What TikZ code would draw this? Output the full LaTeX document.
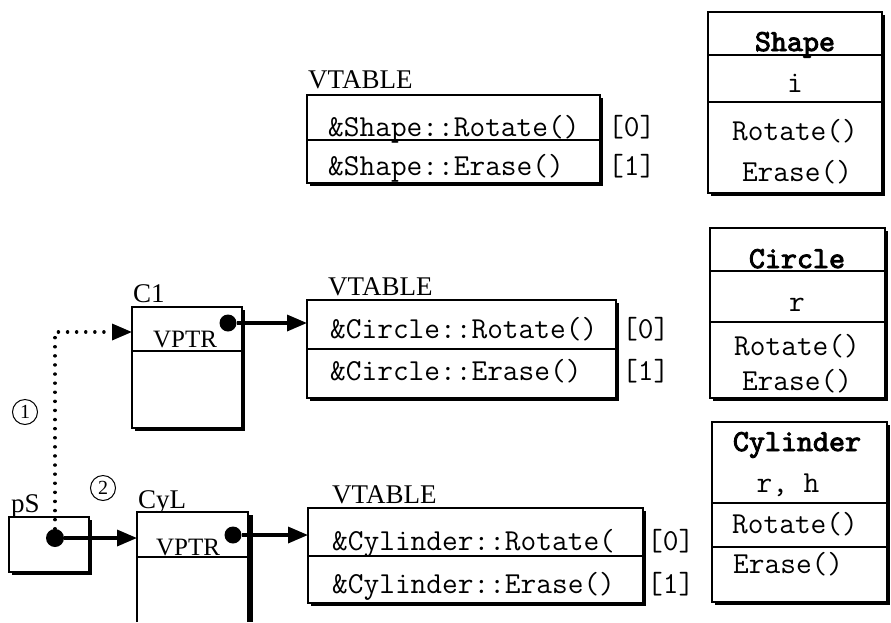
\documentclass[tikz,border=0pt]{standalone}
\usepackage{fontspec}
\setmainfont{Liberation Serif}
\newfontfamily\ttboldfake{lmmono10-regular.otf}[FakeBold=3]
\usetikzlibrary{arrows.meta,shadows}
\begin{document}
\begin{tikzpicture}[x=1pt,y=-1pt,
  frame/.style={draw, line width=1.6pt, fill=white, inner sep=0pt, outer sep=0pt,
    drop shadow={shadow xshift=3pt, shadow yshift=-3pt, opacity=1, fill=black}},
  div/.style={line width=1.4pt},
  mono/.style={inner sep=0pt, font=\fontsize{30.5}{32}\selectfont\ttfamily},
  monob/.style={inner sep=0pt, font=\fontsize{30.5}{32}\selectfont\ttboldfake},
  serif/.style={inner sep=0pt, font=\fontsize{27}{29}\selectfont},
  vptr/.style={inner sep=0pt, font=\fontsize{25}{27}\selectfont},
  ptr/.style={line width=3.4pt, -{Triangle[length=20pt, width=16pt]}},
  dotptr/.style={line width=3.4pt, dash pattern=on 0.1pt off 9pt, line cap=round,
    -{Triangle[length=20pt, width=16pt]}},
  blob/.style={circle, fill=black, inner sep=0pt, minimum size=17pt},
  num/.style={circle, draw, line width=1pt, inner sep=0pt, minimum size=25pt,
    font=\fontsize{20}{22}\selectfont}
]
\useasboundingbox (0,0) rectangle (891,622);

% ---------- Shape vtable ----------
\node[serif, anchor=base west] (lvS) at (308,88) {VTABLE};
\node[frame, minimum width=293pt, minimum height=88pt] (vtS) at (453.5,139) {};
\draw[div] (vtS.west |- 0,140) -- (vtS.east |- 0,140);
\node[mono, anchor=base west] (vtS0) at (328,136) {\&Shape::Rotate()};
\node[mono, anchor=base west] (vtS1) at (328,175) {\&Shape::Erase()};
\node[mono, anchor=base west] (iS0) at (608,136) {[0]};
\node[mono, anchor=base west] (iS1) at (608,175) {[1]};

% ---------- Circle vtable ----------
\node[serif, anchor=base west] (lvC) at (328,295) {VTABLE};
\node[frame, minimum width=309pt, minimum height=98pt] (vtC) at (461.5,349) {};
\draw[div] (vtC.west |- 0,349) -- (vtC.east |- 0,349);
\node[mono, anchor=base west] (vtC0) at (330,338) {\&Circle::Rotate()};
\node[mono, anchor=base west] (vtC1) at (330,380) {\&Circle::Erase()};
\node[mono, anchor=base west] (iC0) at (622,338) {[0]};
\node[mono, anchor=base west] (iC1) at (622,380) {[1]};

% ---------- Cylinder vtable ----------
\node[serif, anchor=base west] (lvY) at (332,503) {VTABLE};
\node[frame, minimum width=335pt, minimum height=95pt] (vtY) at (475.5,555.5) {};
\draw[div] (vtY.west |- 0,556) -- (vtY.east |- 0,556);
\node[mono, anchor=base west] (vtY0) at (332,550) {\&Cylinder::Rotate(};
\node[mono, anchor=base west] (vtY1) at (332,593) {\&Cylinder::Erase()};
\node[mono, anchor=base west] (iY0) at (647,550) {[0]};
\node[mono, anchor=base west] (iY1) at (647,593) {[1]};

% ---------- Shape class ----------
\node[frame, minimum width=174pt, minimum height=181pt] (clS) at (795,102.5) {};
\draw[div] (clS.west |- 0,55) -- (clS.east |- 0,55);
\draw[div] (clS.west |- 0,102) -- (clS.east |- 0,102);
\node[monob, anchor=base] (clS0) at (795,51) {Shape};
\node[mono, anchor=base] (clS1) at (795,92) {i};
\node[mono, anchor=base] (clS2) at (795,140) {Rotate()};
\node[mono, anchor=base] (clS3) at (797,181) {Erase()};

% ---------- Circle class ----------
\node[frame, minimum width=175pt, minimum height=170pt] (clC) at (797.5,313) {};
\draw[div] (clC.west |- 0,271) -- (clC.east |- 0,271);
\draw[div] (clC.west |- 0,322) -- (clC.east |- 0,322);
\node[monob, anchor=base] (clC0) at (797,268) {Circle};
\node[mono, anchor=base] (clC1) at (797,311) {r};
\node[mono, anchor=base] (clC2) at (797,355) {Rotate()};
\node[mono, anchor=base] (clC3) at (797,390) {Erase()};

% ---------- Cylinder class ----------
\node[frame, minimum width=175pt, minimum height=180pt] (clY) at (799.5,512) {};
\draw[div] (clY.west |- 0,503) -- (clY.east |- 0,503);
\draw[div] (clY.west |- 0,547) -- (clY.east |- 0,547);
\node[monob, anchor=base] (clY0) at (797,451) {Cylinder};
\node[mono, anchor=base] (clY1) at (788,492) {r, h};
\node[mono, anchor=base west] (clY2) at (732,533) {Rotate()};
\node[mono, anchor=base west] (clY3) at (733,573) {Erase()};

% ---------- object C1 ----------
\node[serif, anchor=base west] (lC1) at (133,302) {C1};
\node[frame, minimum width=110pt, minimum height=121pt] (C1) at (187,367.5) {};
\draw[div] (C1.west |- 0,351) -- (C1.east |- 0,351);
\node[vptr, anchor=base] (vpC) at (185,347) {VPTR};
\node[blob] (dC) at (228,323) {};

% ---------- pointer pS ----------
\node[serif, anchor=base west] (lpS) at (11,512) {pS};
\node[frame, minimum width=80pt, minimum height=55pt] (pS) at (49,544.5) {};
\node[blob, minimum size=18pt] (dP) at (55,538) {};

% ---------- object CyL (open at bottom) ----------
\node[serif, anchor=base west] (lCyL) at (138,508) {CyL};
\node[inner sep=0pt, outer sep=0pt, minimum width=111pt, minimum height=110pt] (CyL) at (192.5,567) {};
\draw[line width=4pt] ([xshift=3pt,yshift=-3pt]CyL.north east) -- ([xshift=3pt]CyL.south east);
\fill[white] (CyL.south west) rectangle (CyL.north east);
\draw[line width=1.6pt] (CyL.south west) -- (CyL.north west) -- (CyL.north east) -- (CyL.south east);
\draw[div] (CyL.west |- 0,557) -- (CyL.east |- 0,557);
\node[vptr, anchor=base] (vpY) at (188,555) {VPTR};
\node[blob] (dY) at (233,535) {};

% ---------- connectors ----------
\draw[ptr] (dC) -- (vtC.west |- dC);
\draw[ptr] (dY) -- (vtY.west |- dY);
\draw[ptr] (dP) -- (CyL.west |- dP);
\coordinate (bend) at (55,332);
\draw[dotptr] (dP) -- (bend) -- (C1.west |- bend);

% ---------- step numbers ----------
\node[num] (n1) at (25,412) {1};
\node[num] (n2) at (103,488) {2};
\end{tikzpicture}
\end{document}
